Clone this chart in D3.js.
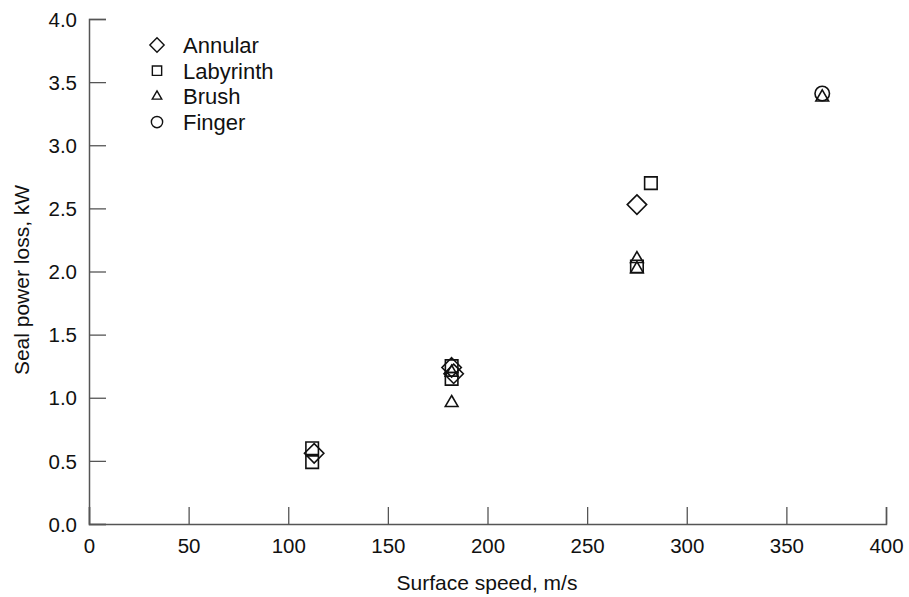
<!DOCTYPE html>
<html>
<head>
<meta charset="utf-8">
<script src="https://cdn.jsdelivr.net/npm/d3@7"></script>
<style>
  body { margin: 0; background: #fff; }
  text { font-family: "Liberation Sans", Arial, sans-serif; }
</style>
</head>
<body>
<div id="chart"></div>
<script>
// series: [speed m/s, power kW]
const annular = [[113, 0.56], [182, 1.24], [183, 1.19], [275, 2.53]];
const labyrinth = [[112, 0.60], [112, 0.49], [182, 1.25], [182, 1.15], [275, 2.04], [282, 2.70]];
const brush = [[182, 0.96], [182, 1.20], [275, 2.10], [275, 2.02], [368, 3.38]];
const finger = [[368, 3.41]];

const xTicks = [0, 50, 100, 150, 200, 250, 300, 350, 400];
const yTicks = [0, 0.5, 1, 1.5, 2, 2.5, 3, 3.5, 4];
const seriesNames = ["Annular", "Labyrinth", "Brush", "Finger"];

const width = 909, height = 597;
const margin = {top: 19, right: 23, bottom: 73, left: 89};

const svg = d3.select("#chart").append("svg")
    .attr("width", width)
    .attr("height", height);

const x = d3.scaleLinear().domain([0, 400]).range([margin.left, width - margin.right]);
const y = d3.scaleLinear().domain([0, 4]).range([height - margin.bottom, margin.top]);

// axes, ticks pointing inward
const xAxis = svg.append("g")
    .attr("transform", `translate(0,${height - margin.bottom})`)
    .call(d3.axisBottom(x).tickValues(xTicks).tickSize(-17).tickPadding(24).tickFormat(d3.format("d")));
const yAxis = svg.append("g")
    .attr("transform", `translate(${margin.left},0)`)
    .call(d3.axisLeft(y).tickValues(yTicks).tickSize(-17).tickPadding(30).tickFormat(d3.format(".1f")));

[xAxis, yAxis].forEach(a => {
  a.select(".domain").attr("stroke", "#555").attr("stroke-width", 1.5);
  a.selectAll(".tick line").attr("stroke", "#555").attr("stroke-width", 1.3);
  a.selectAll(".tick text").attr("fill", "#111").style("font-size", "20.5px");
});
xAxis.selectAll(".tick text").attr("dy", "0.22em");
yAxis.selectAll(".tick text").attr("dy", "0.35em").attr("x", -12);

svg.append("text")
    .attr("x", 487)
    .attr("y", 590)
    .attr("text-anchor", "middle")
    .attr("fill", "#111")
    .style("font-size", "21px")
    .text("Surface speed, m/s");

svg.append("text")
    .attr("transform", "translate(29,280) rotate(-90)")
    .attr("text-anchor", "middle")
    .attr("fill", "#111")
    .style("font-size", "21px")
    .text("Seal power loss, kW");

const shapes = [
  d3.symbol().type(d3.symbolDiamond2).size(240),
  d3.symbol().type(d3.symbolSquare2).size(200),
  d3.symbol().type(d3.symbolTriangle2).size(115),
  d3.symbol().type(d3.symbolCircle).size(165)
];
const legendShapes = [
  d3.symbol().type(d3.symbolDiamond2).size(130),
  d3.symbol().type(d3.symbolSquare2).size(110),
  d3.symbol().type(d3.symbolTriangle2).size(65),
  d3.symbol().type(d3.symbolCircle).size(100)
];

const allSeries = [annular, labyrinth, brush, finger];
allSeries.forEach((data, i) => {
  svg.append("g")
    .selectAll("path")
    .data(data)
    .join("path")
      .attr("d", shapes[i])
      .attr("transform", d => `translate(${x(d[0])},${y(d[1])})`)
      .attr("fill", "none")
      .attr("stroke", "#111")
      .attr("stroke-width", 1.6);
});

// legend
const legend = svg.append("g").attr("transform", "translate(157,45)");
const rows = legend.selectAll("g")
    .data(seriesNames)
    .join("g")
    .attr("transform", (d, i) => `translate(0,${i * 25.7})`);
rows.append("path")
    .attr("d", (d, i) => legendShapes[i]())
    .attr("fill", "none")
    .attr("stroke", "#111")
    .attr("stroke-width", 1.4);
rows.append("text")
    .attr("x", 26)
    .attr("dy", "0.36em")
    .attr("fill", "#111")
    .style("font-size", "22px")
    .text(d => d);
</script>
</body>
</html>
